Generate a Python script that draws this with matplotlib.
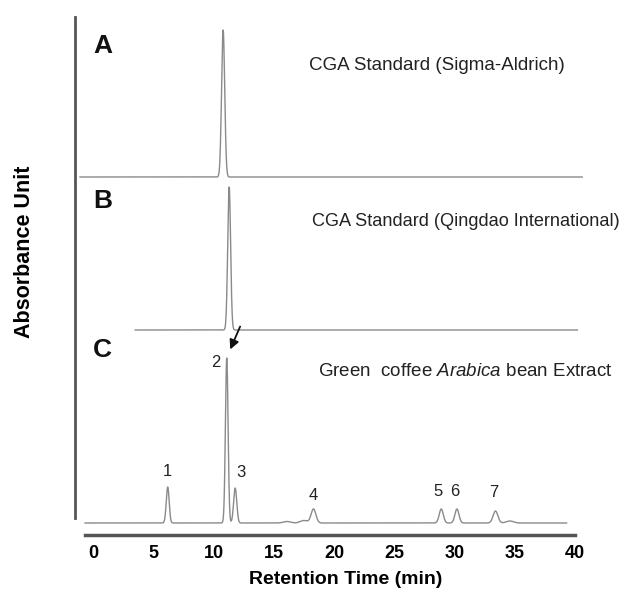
import matplotlib
matplotlib.use("Agg")
import matplotlib.pyplot as plt
import numpy as np

plt.rcParams['font.family'] = ['Liberation Sans', 'DejaVu Sans']
plt.rcParams['mathtext.fontset'] = 'custom'
plt.rcParams['mathtext.rm'] = 'Liberation Sans'
plt.rcParams['mathtext.it'] = 'Liberation Sans:italic'

# retention time (min), peak height (a.u.), peak sigma (min)
a_times = [10.8]
a_heights = [147]
a_sigmas = [0.13]

b_times = [11.3]
b_heights = [143]
b_sigmas = [0.12]

c_times = [6.2, 11.1, 11.8, 16.1, 17.5, 18.3, 28.9, 30.2, 33.4, 34.6]
c_heights = [36, 165, 35, 1.5, 2.5, 14, 14, 14, 12, 2]
c_sigmas = [0.12, 0.11, 0.13, 0.3, 0.3, 0.2, 0.17, 0.17, 0.2, 0.3]
c_labels = ['1', '2', '3', '', '', '4', '5', '6', '7', '']

# trace baselines (vertical offset) and time span
offsets = {'A': 358, 'B': 205, 'C': 12}
spans = {'A': (-1.08, 40.6), 'B': (3.5, 40.2), 'C': (-0.66, 39.3)}
titles = {'A': 'CGA Standard (Sigma-Aldrich)',
          'B': 'CGA Standard (Qingdao International)',
          'C': r'Green  coffee $\mathit{Arabica}$ bean Extract'}


def trace(t, times, heights, sigmas):
    y = np.zeros_like(t)
    for rt, h, s in zip(times, heights, sigmas):
        y += h * np.exp(-0.5 * ((t - rt) / s) ** 2)
    return y


fig = plt.figure(figsize=(6.3, 6.01), dpi=100)
ax = fig.add_axes([60 / 630, 66 / 601, 570 / 630, 535 / 601])
ax.set_xlim((60 - 93) / 12.05, (630 - 93) / 12.05)
ax.set_ylim(0, 535)

peaks = {'A': (a_times, a_heights, a_sigmas),
         'B': (b_times, b_heights, b_sigmas),
         'C': (c_times, c_heights, c_sigmas)}
for key, (times, heights, sigmas) in peaks.items():
    t0, t1 = spans[key]
    t = np.linspace(t0, t1, 4000)
    y = offsets[key] + trace(t, times, heights, sigmas)
    ax.plot(t, y, color='#8a8a8a', lw=1.0)

# peak numbers for the extract
label_shift = {'1': (0, 8), '2': (-0.9, -12), '3': (0.5, 8), '4': (0, 6),
               '5': (-0.25, 10), '6': (-0.15, 10), '7': (-0.15, 11)}
for rt, h, lab in zip(c_times, c_heights, c_labels):
    if not lab:
        continue
    dx, dy = label_shift[lab]
    ax.text(rt + dx, offsets['C'] + h + dy, lab, ha='center', va='bottom',
            fontsize=12, color='#222222')

# arrow pointing at CGA peak
i2 = c_labels.index('2')
ax.annotate('', xy=(c_times[i2] + 0.2, offsets['C'] + c_heights[i2] + 6),
            xytext=(c_times[i2] + 1.2, offsets['C'] + c_heights[i2] + 34),
            arrowprops=dict(arrowstyle='-|>', color='#111111', lw=1.3,
                            mutation_scale=14))

# panel letters and titles
letter_y = {'A': 489, 'B': 334, 'C': 185}
title_y = {'A': 469, 'B': 313, 'C': 163}
title_x = {'A': 17.9, 'B': 18.2, 'C': 18.7}
title_size = {'A': 13.5, 'B': 13.1, 'C': 13.5}
for key in ['A', 'B', 'C']:
    ax.text(0.0, letter_y[key], key, fontsize=19, fontweight='bold',
            ha='left', va='center', color='#111111')
    ax.text(title_x[key], title_y[key], titles[key], fontsize=title_size[key],
            ha='left', va='center', color='#222222')

# axes styling
for side in ['top', 'right']:
    ax.spines[side].set_visible(False)
ax.spines['bottom'].set_bounds(-0.66, 40)
ax.spines['bottom'].set_linewidth(2.5)
ax.spines['bottom'].set_color('#555555')
ax.spines['left'].set_position(('data', -1.5))
ax.spines['left'].set_bounds(17, 518)
ax.spines['left'].set_linewidth(2.0)
ax.spines['left'].set_color('#555555')
ax.set_yticks([])
ax.set_xticks(np.arange(0, 41, 5))
ax.tick_params(axis='x', length=0, pad=7, labelsize=13)
for lbl in ax.get_xticklabels():
    lbl.set_fontweight('bold')
ax.patch.set_alpha(0)

fig.text(346 / 630, 1 - 580 / 601, 'Retention Time (min)', ha='center',
         va='center', fontsize=14, fontweight='bold')
fig.text(25 / 630, 1 - 252 / 601, 'Absorbance Unit', ha='center',
         va='center', rotation=90, fontsize=15.5, fontweight='bold')

fig.savefig('out.png', dpi=100)
